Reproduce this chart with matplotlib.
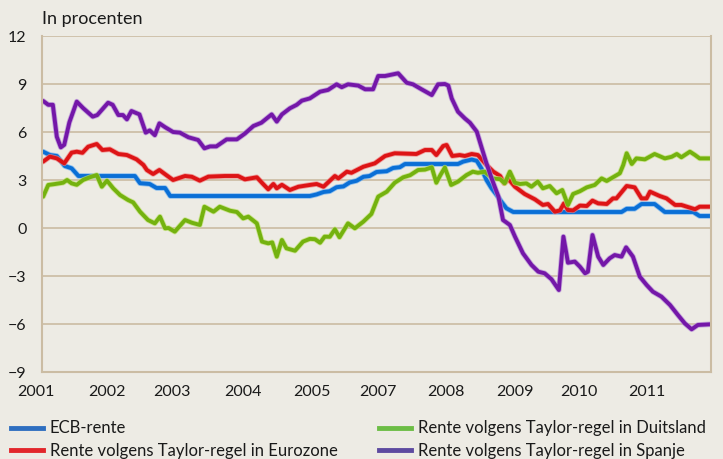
import matplotlib
matplotlib.use("Agg")
import matplotlib.pyplot as plt
import matplotlib.patheffects as pe
from matplotlib.lines import Line2D

plt.rcParams['font.family'] = ['Lato', 'DejaVu Sans']

# ── data ───────────────────────────────────────────────────
ecb_t = [2001.02, 2001.14, 2001.26, 2001.40, 2001.52, 2001.64, 2002.63, 2002.72, 2002.89,
         2003.01, 2003.16, 2003.25, 2005.70, 2005.82, 2005.94, 2006.05, 2006.17, 2006.29,
         2006.40, 2006.52, 2006.64, 2006.75, 2006.87, 2007.05, 2007.16, 2007.28, 2007.37,
         2008.30, 2008.39, 2008.54, 2008.63, 2008.71, 2008.80, 2008.89, 2008.98, 2009.06,
         2009.15, 2009.27, 2011.17, 2011.26, 2011.40, 2011.52, 2011.75, 2011.93, 2012.43,
         2012.54, 2012.72]
ecb_v = [4.77, 4.56, 4.5, 3.875, 3.73, 3.25, 3.25, 2.8, 2.75,
         2.5, 2.5, 2.0, 2.0, 2.1, 2.25, 2.3, 2.55, 2.6,
         2.85, 2.95, 3.2, 3.25, 3.5, 3.55, 3.75, 3.8, 4.0,
         4.0, 4.15, 4.28, 4.2, 3.73, 3.0, 2.48, 2.06, 1.65,
         1.23, 1.0, 1.0, 1.2, 1.2, 1.5, 1.5, 1.0, 1.0,
         0.75, 0.75]

ez_t = [2001.02, 2001.14, 2001.26, 2001.39, 2001.52, 2001.61, 2001.71, 2001.81, 2001.96,
        2002.06, 2002.19, 2002.34, 2002.49, 2002.66, 2002.78, 2002.84, 2002.95, 2003.06,
        2003.18, 2003.30, 2003.51, 2003.63, 2003.77, 2003.92, 2004.21, 2004.44, 2004.56,
        2004.77, 2004.88, 2004.97, 2005.06, 2005.12, 2005.21, 2005.35, 2005.50, 2005.70,
        2005.82, 2005.94, 2006.14, 2006.20, 2006.35, 2006.43, 2006.64, 2006.84, 2007.02,
        2007.19, 2007.57, 2007.72, 2007.84, 2007.92, 2008.04, 2008.10, 2008.20, 2008.33,
        2008.42, 2008.54, 2008.65, 2008.80, 2008.92, 2009.04, 2009.11, 2009.19, 2009.30,
        2009.47, 2009.65, 2009.79, 2009.88, 2010.00, 2010.09, 2010.16, 2010.23, 2010.32,
        2010.44, 2010.56, 2010.66, 2010.76, 2010.91, 2011.02, 2011.08, 2011.26, 2011.40,
        2011.52, 2011.61, 2011.67, 2011.84, 2011.96, 2012.11, 2012.22, 2012.46, 2012.54,
        2012.72]
ez_v = [4.15, 4.46, 4.35, 4.04, 4.71, 4.77, 4.7, 5.08, 5.25,
        4.875, 4.92, 4.625, 4.56, 4.29, 3.94, 3.625, 3.375, 3.625,
        3.31, 3.0, 3.25, 3.2, 2.96, 3.21, 3.25, 3.25, 3.04,
        3.17, 2.75, 2.42, 2.75, 2.48, 2.7, 2.375, 2.58, 2.69,
        2.75, 2.58, 3.25, 3.1, 3.52, 3.45, 3.83, 4.04, 4.5,
        4.67, 4.625, 4.875, 4.875, 4.56, 5.125, 5.19, 4.5, 4.56,
        4.5, 4.625, 4.56, 3.94, 3.52, 3.25, 2.79, 3.04, 2.58,
        2.125, 1.79, 1.44, 1.5, 1.02, 1.1, 1.54, 1.125, 1.1,
        1.4, 1.375, 1.71, 1.54, 1.5, 1.85, 1.85, 2.625, 2.54,
        1.85, 1.85, 2.27, 2.0, 1.85, 1.44, 1.44, 1.17, 1.33,
        1.33]

de_t = [2001.02, 2001.11, 2001.23, 2001.37, 2001.44, 2001.52, 2001.61, 2001.72, 2001.84,
        2001.96, 2002.05, 2002.14, 2002.25, 2002.37, 2002.51, 2002.60, 2002.72, 2002.86,
        2002.98, 2003.07, 2003.16, 2003.22, 2003.33, 2003.51, 2003.63, 2003.77, 2003.85,
        2004.01, 2004.12, 2004.30, 2004.42, 2004.53, 2004.62, 2004.77, 2004.86, 2004.97,
        2005.04, 2005.12, 2005.21, 2005.29, 2005.44, 2005.58, 2005.70, 2005.79, 2005.88,
        2005.96, 2006.05, 2006.14, 2006.22, 2006.37, 2006.49, 2006.64, 2006.78, 2006.90,
        2007.05, 2007.19, 2007.34, 2007.46, 2007.60, 2007.72, 2007.84, 2007.92, 2007.99,
        2008.07, 2008.18, 2008.30, 2008.45, 2008.56, 2008.65, 2008.77, 2008.91, 2009.04,
        2009.12, 2009.21, 2009.30, 2009.39, 2009.50, 2009.59, 2009.70, 2009.79, 2009.91,
        2010.03, 2010.13, 2010.23, 2010.32, 2010.44, 2010.56, 2010.70, 2010.82, 2010.91,
        2011.02, 2011.14, 2011.20, 2011.26, 2011.35, 2011.43, 2011.58, 2011.75, 2011.93,
        2012.05, 2012.14, 2012.22, 2012.37, 2012.46, 2012.54, 2012.72]
de_v = [1.96, 2.69, 2.75, 2.83, 3.0, 2.79, 2.7, 3.0, 3.17,
        3.31, 2.58, 2.96, 2.48, 2.06, 1.75, 1.6, 1.02, 0.5,
        0.29, 0.71, -0.02, 0.0, -0.23, 0.5, 0.33, 0.19, 1.33,
        1.02, 1.33, 1.08, 1.0, 0.6, 0.71, 0.29, -0.85, -0.96,
        -0.9, -1.79, -0.75, -1.27, -1.42, -0.85, -0.68, -0.7, -0.92,
        -0.54, -0.55, -0.08, -0.58, 0.29, -0.02, 0.4, 0.875, 1.96,
        2.27, 2.83, 3.17, 3.3, 3.625, 3.65, 3.79, 2.83, 3.3,
        3.78, 2.69, 2.9, 3.31, 3.52, 3.45, 3.52, 3.1, 3.05,
        2.79, 3.52, 2.83, 2.75, 2.79, 2.58, 2.9, 2.48, 2.625,
        2.17, 2.375, 1.44, 2.125, 2.3, 2.54, 2.69, 3.1, 2.94,
        3.17, 3.42, 3.94, 4.67, 4.0, 4.35, 4.29, 4.625, 4.35,
        4.45, 4.625, 4.42, 4.77, 4.56, 4.35, 4.35]

es_t = [2001.02, 2001.11, 2001.19, 2001.26, 2001.33, 2001.39, 2001.48, 2001.61, 2001.72,
        2001.89, 2001.97, 2002.16, 2002.24, 2002.34, 2002.42, 2002.49, 2002.57, 2002.71,
        2002.82, 2002.89, 2002.98, 2003.06, 2003.16, 2003.30, 2003.42, 2003.57, 2003.74,
        2003.85, 2003.95, 2004.06, 2004.24, 2004.42, 2004.56, 2004.71, 2004.85, 2005.03,
        2005.12, 2005.21, 2005.35, 2005.47, 2005.56, 2005.70, 2005.88, 2006.02, 2006.17,
        2006.26, 2006.37, 2006.55, 2006.67, 2006.81, 2006.90, 2007.02, 2007.25, 2007.40,
        2007.51, 2007.66, 2007.84, 2007.95, 2008.07, 2008.13, 2008.19, 2008.30, 2008.42,
        2008.51, 2008.63, 2008.71, 2008.80, 2008.89, 2009.01, 2009.09, 2009.21, 2009.30,
        2009.44, 2009.59, 2009.71, 2009.82, 2009.94, 2010.07, 2010.15, 2010.23, 2010.35,
        2010.44, 2010.53, 2010.58, 2010.66, 2010.76, 2010.85, 2010.96, 2011.05, 2011.17,
        2011.25, 2011.37, 2011.49, 2011.61, 2011.72, 2011.87, 2012.02, 2012.16, 2012.28,
        2012.40, 2012.51, 2012.72]
es_v = [7.94, 7.7, 7.7, 5.7, 5.04, 5.2, 6.6, 7.9, 7.5,
        6.96, 7.06, 7.83, 7.7, 7.06, 7.06, 6.79, 7.31, 7.1,
        5.96, 6.1, 5.8, 6.54, 6.3, 6.0, 5.96, 5.67, 5.5,
        4.98, 5.1, 5.1, 5.54, 5.54, 5.9, 6.375, 6.58, 7.1,
        6.65, 7.1, 7.48, 7.7, 7.96, 8.1, 8.52, 8.63, 8.98,
        8.8, 8.98, 8.9, 8.67, 8.67, 9.5, 9.5, 9.67, 9.08,
        8.98, 8.67, 8.31, 8.98, 9.0, 8.9, 8.1, 7.27, 6.85,
        6.58, 6.02, 5.08, 4.04, 3.1, 1.96, 0.5, 0.19, -0.54,
        -1.58, -2.31, -2.73, -2.83, -3.2, -3.875, -0.54, -2.17, -2.1,
        -2.42, -2.83, -2.73, -0.44, -1.79, -2.31, -1.9, -1.69, -1.79,
        -1.21, -1.79, -3.04, -3.56, -3.98, -4.29, -4.81, -5.44, -5.96,
        -6.33, -6.06, -6.02]

year_labels = ['2001', '2002', '2003', '2004', '2005', '2007', '2008', '2009', '2010', '2011']
year_pos = [2000.89, 2002.14, 2003.28, 2004.53, 2005.73, 2006.90, 2008.08, 2009.30, 2010.43, 2011.61]
y_ticks = [12, 9, 6, 3, 0, -3, -6, -9]

BG = '#edebe4'
GRID = '#cbbca3'

fig = plt.figure(figsize=(7.23, 4.59), dpi=100, facecolor=BG)
ax = fig.add_axes([42/723, 87/459, 669/723, 336/459], facecolor=BG)

series = [
    (ecb_t, ecb_v, '#0a6fd6', '#6aaef0'),
    (ez_t, ez_v, '#dd1416', '#f08080'),
    (de_t, de_v, '#74b20f', '#bfe070'),
    (es_t, es_v, '#7417a8', '#b489d6'),
]
for t, v, c, halo in series:
    ax.plot(t, v, color=c, lw=2.8, solid_joinstyle='round', solid_capstyle='round',
            path_effects=[pe.Stroke(linewidth=4.0, foreground=halo, alpha=0.7), pe.Normal()])

ax.set_xlim(2001, 2012.74)
ax.set_ylim(-9, 12)
ax.set_yticks(y_ticks)
ax.set_yticklabels([str(v).replace('-', '\u2212') for v in y_ticks])
ax.set_xticks([])
ax.tick_params(axis='y', length=0, pad=11, labelsize=11.5, colors='#1a1a1a')
ax.grid(axis='y', color=GRID, lw=1.2)
ax.set_axisbelow(True)
for s in ax.spines.values():
    s.set_color(GRID)
    s.set_linewidth(1.5)
ax.spines['top'].set_visible(False)

for lab, xp in zip(year_labels, year_pos):
    ax.text(xp, -0.04, lab, transform=ax.get_xaxis_transform(), ha='center', va='top',
            fontsize=11.5, color='#1a1a1a', clip_on=False)

fig.text(42/723, 1 - 19/459, 'In procenten', ha='left', va='center', fontsize=13, color='#1a1a1a')

# legend
h1 = [Line2D([], [], color='#2f6fc0', lw=3.5), Line2D([], [], color='#e2262b', lw=3.5)]
h2 = [Line2D([], [], color='#6cbd45', lw=3.5), Line2D([], [], color='#5d4aa0', lw=3.5)]
kw = dict(frameon=False, fontsize=12, borderpad=0, handlelength=1.9, handletextpad=0.4,
          labelspacing=0.4, loc='upper left', labelcolor='#1a1a1a')
fig.legend(h1, ['ECB-rente', 'Rente volgens Taylor-regel in Eurozone'],
           bbox_to_anchor=(3/723, 1 - 412/459), **kw)
fig.legend(h2, ['Rente volgens Taylor-regel in Duitsland', 'Rente volgens Taylor-regel in Spanje'],
           bbox_to_anchor=(371/723, 1 - 412/459), **kw)

plt.savefig('out.png', dpi=100, facecolor=BG)
plt.close()
